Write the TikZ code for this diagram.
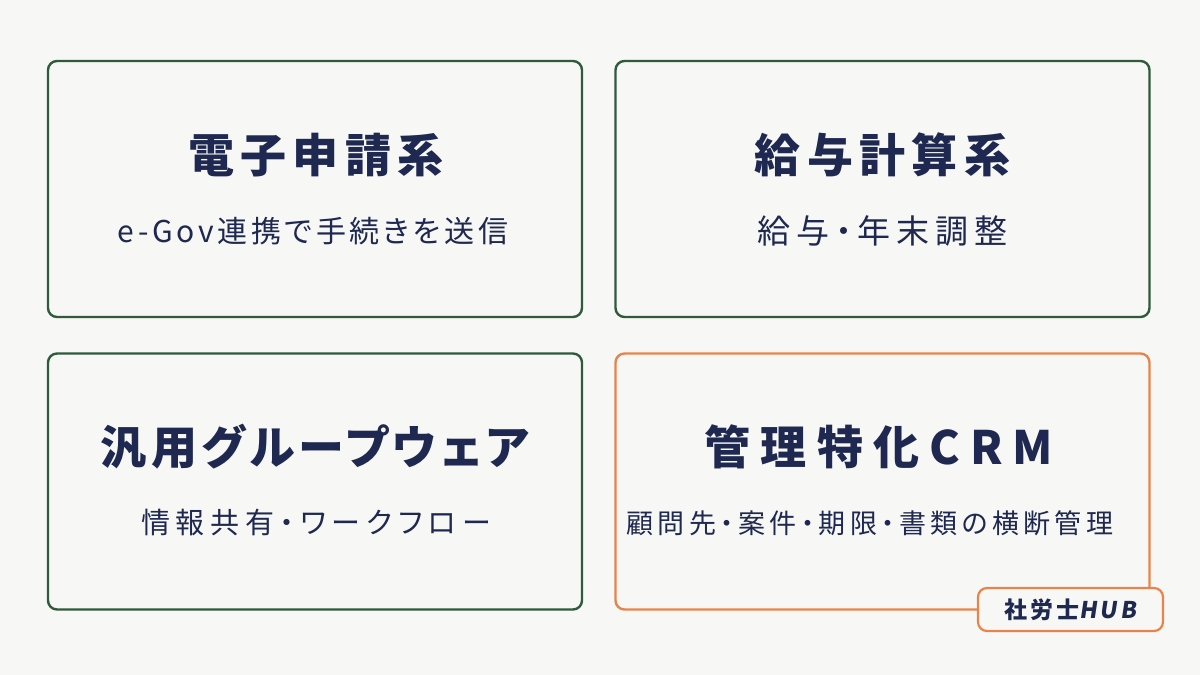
\documentclass[tikz,border=0pt]{standalone}
\usepackage{fontspec}
\setmainfont{Noto Sans CJK JP}
\usetikzlibrary{positioning}
\definecolor{paper}{HTML}{F7F7F5}
\definecolor{ink}{HTML}{1E2850}
\definecolor{pine}{HTML}{2F5A3C}
\definecolor{tangerine}{HTML}{E9834C}
\tikzstyle{card} = [rectangle, draw=pine, line width=2.4pt, rounded corners=9pt,
    minimum width=534pt, minimum height=256pt]
\tikzstyle{hicard} = [card, draw=tangerine]
\tikzset{
    heading/.style={text=ink, font=\fontsize{46}{52}\selectfont\bfseries\addfontfeatures{LetterSpace=#1,RawFeature=+palt}},
    heading/.default=14,
    caption/.style 2 args={text=ink, font=\fontsize{#1}{#1}\selectfont\addfontfeatures{LetterSpace=#2,RawFeature=+palt}},
}
\tikzstyle{badge} = [rectangle, draw=tangerine, fill=paper, line width=2.2pt, rounded corners=9pt,
    minimum width=185pt, minimum height=43pt, text=ink,
    font=\fontsize{23}{26}\selectfont\bfseries\addfontfeatures{LetterSpace=12}]

\begin{document}
\begin{tikzpicture}[x=1pt, y=-1pt]
    \fill[paper] (0,0) rectangle (1200,675);

    \node[card] (esys) at (315,189) {};
    \node[card] (pay) at (882.5,189) {};
    \node[card] (group) at (315,481.5) {};
    \node[hicard] (crm) at (882.5,481.5) {};

    \node[heading] (esyst) at (316,155) {電子申請系};
    \node[caption={30}{12}] (esysc) at (313,231) {e-Gov連携で手続きを送信};
    \node[heading] (payt) at (882.5,155) {給与計算系};
    \node[caption={33}{18}] (payc) at (882.5,231) {給与・年末調整};
    \node[heading=10] (groupt) at (315,447) {汎用グループウェア};
    \node[caption={29}{20}] (groupc) at (316,523) {情報共有・ワークフロー};
    \node[heading=22] (crmt) at (879,447) {管理特化CRM};
    \node[caption={27}{16}] (crmc) at (870,523) {顧問先・案件・期限・書類の横断管理};

    \node[badge] (hub) at (1070.5,609.5) {社労士{\addfontfeatures{FakeSlant=0.15}HUB}};
\end{tikzpicture}
\end{document}
